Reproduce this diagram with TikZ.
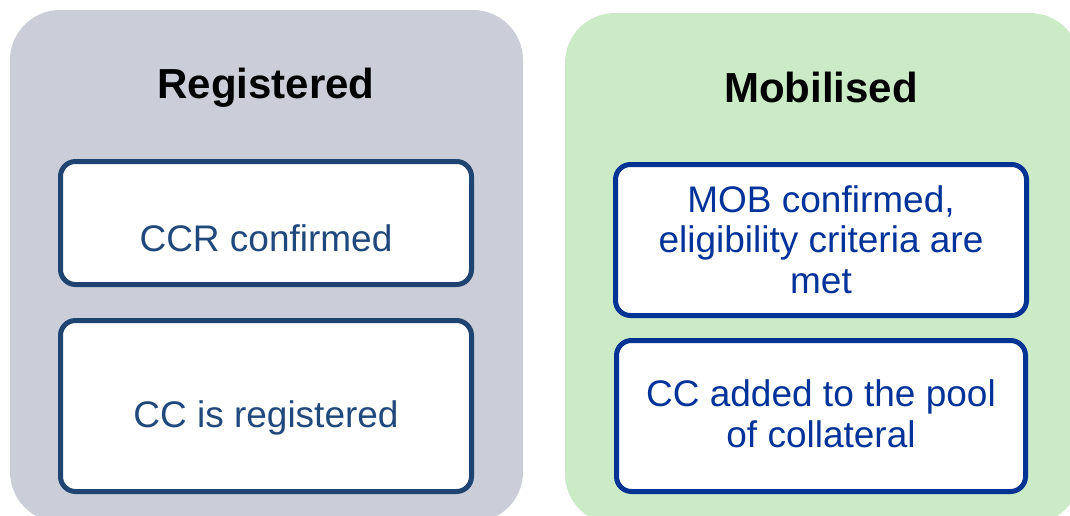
\documentclass[tikz,border=0pt]{standalone}
\usepackage{fontspec}
\setmainfont{Liberation Sans}
\definecolor{panelgray}{HTML}{CBCED8}
\definecolor{panelgreen}{HTML}{CAEBC6}
\definecolor{leftblue}{HTML}{1F4472}
\definecolor{lefttext}{HTML}{1F497D}
\definecolor{rightblue}{HTML}{003393}
\definecolor{righttext}{HTML}{003399}
\tikzset{
  panel/.style={rounded corners=50pt, draw=none},
  boxL/.style={draw=leftblue, line width=5pt, fill=white, rounded corners=15pt},
  boxR/.style={draw=rightblue, line width=5pt, fill=white, rounded corners=15pt},
  titletext/.style={font=\fontsize{42}{48}\selectfont\bfseries, text=black, anchor=base, inner sep=0pt},
  txtL/.style={font=\fontsize{37}{40.5}\selectfont, text=lefttext, anchor=base, align=center, inner sep=0pt},
  txtR/.style={font=\fontsize{37}{40.5}\selectfont, text=righttext, anchor=base, align=center, inner sep=0pt},
}
\begin{document}
\begin{tikzpicture}[x=1pt, y=-1pt]
\useasboundingbox (0,0) rectangle (1070,515);
\begin{scope}
\clip (0,0) rectangle (1070,515);
\fill[panel, panelgray] (10,10) rectangle (523,522);
\fill[panel, panelgreen] (565,13) rectangle (1080,524);
\end{scope}
\node[titletext] (treg) at (266,98) {Registered};
\node[titletext] (tmob) at (821,102) {Mobilised};
\draw[boxL] (60.5,161.5) rectangle (471.5,284.5);
\draw[boxL] (60.5,320.5) rectangle (471.5,491.5);
\draw[boxR] (615.5,164.5) rectangle (1026.5,315.5);
\draw[boxR] (616.5,340.5) rectangle (1025.5,491.5);
\node[txtL] (b1) at (266,251) {CCR confirmed};
\node[txtL] (b2) at (266,427) {CC is registered};
\node[txtR] (b3) at (821,293) {MOB confirmed,\\eligibility criteria are\\met};
\node[txtR] (b4) at (821,447) {CC added to the pool\\of collateral};
\end{tikzpicture}
\end{document}
